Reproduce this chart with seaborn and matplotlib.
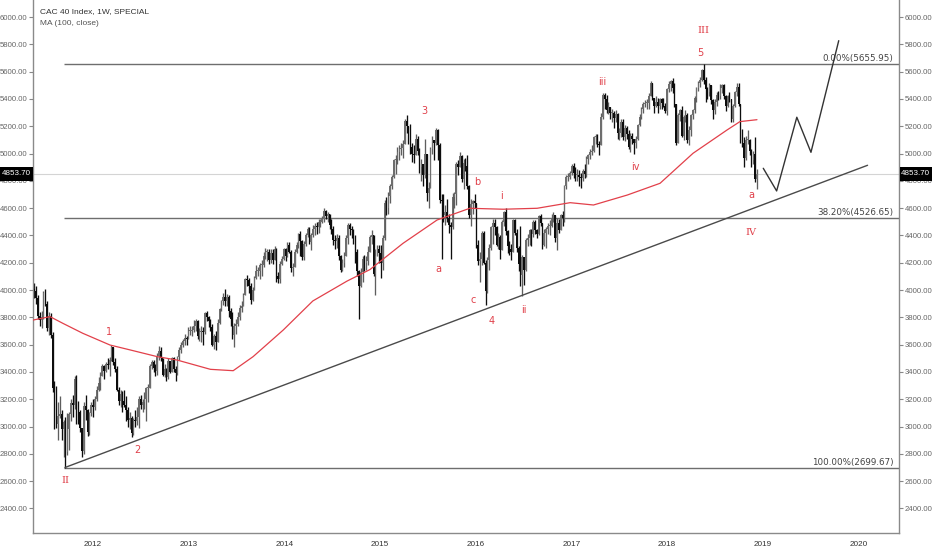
import numpy as np
import pandas as pd
import seaborn as sns
import matplotlib
matplotlib.use("Agg")
import matplotlib.pyplot as plt
import matplotlib.dates as mdates
import matplotlib.transforms as mtransforms
from matplotlib.patches import Rectangle

# WEEKLY CAC 40 BARS (MONDAYS FROM 2011-05-23), ONE LINE PER YEAR
first_open = 4010
closes = [
    3990, 3940, 3810, 3780, 3800, 3980, 3900, 3720, 3810, 3670, 3280, 3210, 3020, 3080, 3090, 2980,
    3030, 2810, 2980, 3090, 3170, 3160, 3350, 3120, 3110, 2990, 2820, 3150, 3120, 2960, 3100, 3160,
    3140, 3200, 3270, 3320, 3370, 3440, 3410, 3460, 3450, 3490, 3580, 3470, 3420, 3270, 3190, 3240, 3190, 3160,
    3120, 3050, 3060, 2950, 3050, 3040, 3070, 3200, 3160, 3180, 3200, 3280, 3280, 3440, 3470, 3430, 3410,
    3520, 3550, 3500, 3380, 3420, 3360, 3480, 3400, 3500, 3420, 3390, 3510, 3560, 3600, 3630, 3650, 3640, 3700,
    3700, 3710, 3740, 3770, 3660, 3690, 3700, 3690, 3830, 3800, 3770, 3730, 3600, 3660, 3620, 3760, 3860,
    3920, 3950, 3920, 3950, 3850, 3790, 3670, 3740, 3750, 3800, 3870, 3880, 3960, 4080, 4070, 4030, 3930,
    4000, 4090, 4140, 4140, 4180, 4180, 4250, 4280, 4280, 4220, 4270, 4220, 4300, 4100, 4080, 4190, 4230, 4300,
    4250, 4330, 4280, 4160, 4170, 4280, 4330, 4410, 4360, 4240, 4340, 4400, 4450, 4350, 4400, 4450, 4470,
    4460, 4500, 4500, 4520, 4580, 4540, 4560, 4480, 4450, 4370, 4360, 4380, 4250, 4150, 4200, 4250, 4380,
    4480, 4450, 4440, 4380, 4280, 4140, 4030, 4130, 4230, 4200, 4210, 4280, 4390, 4400, 4120, 4250, 4300, 4270,
    4200, 4380, 4640, 4600, 4690, 4760, 4830, 4950, 4960, 5010, 5030, 5040, 5070, 5240, 5200, 5170, 5050,
    5000, 4990, 5110, 5020, 4900, 4920, 4840, 5000, 4710, 4750, 5030, 5100, 5080, 5170, 5060, 4660, 4650, 4550,
    4570, 4530, 4480, 4460, 4680, 4700, 4920, 4900, 4980, 4810, 4930, 4910, 4760, 4550, 4630, 4650, 4640,
    4330, 4210, 4230, 4420, 4200, 3990, 4220, 4310, 4460, 4490, 4460, 4330, 4390, 4290, 4500, 4570, 4430,
    4320, 4300, 4280, 4510, 4420, 4310, 4190, 4110, 4240, 4150, 4370, 4380, 4440, 4410, 4500, 4440, 4410, 4540,
    4490, 4330, 4420, 4450, 4470, 4470, 4530, 4550, 4380, 4490, 4440, 4550, 4530, 4760, 4830, 4830, 4860,
    4910, 4860, 4840, 4840, 4830, 4820, 4870, 4850, 4960, 4990, 5010, 5020, 5120, 5130, 5070, 5060, 5270,
    5430, 5400, 5320, 5340, 5300, 5300, 5260, 5290, 5150, 5150, 5230, 5120, 5190, 5140, 5050, 5130, 5110, 5080,
    5110, 5210, 5270, 5330, 5360, 5370, 5370, 5420, 5520, 5410, 5350, 5380, 5350, 5400, 5370, 5350, 5310,
    5470, 5510, 5530, 5480, 5360, 5080, 5280, 5320, 5130, 5270, 5280, 5100, 5170, 5280, 5320, 5410, 5480, 5520,
    5540, 5610, 5540, 5470, 5450, 5500, 5390, 5320, 5380, 5430, 5420, 5480, 5500, 5420, 5350, 5420, 5400,
    5250, 5350, 5450, 5490, 5360, 5100, 5080, 4970, 5100, 5100, 5020, 4950, 5000, 4810, 4853.70,
]
highs = [
    4050, 4030, 3960, 3840, 3850, 3990, 4010, 3920, 3840, 3830, 3690, 3330, 3300, 3180, 3220, 3120,
    3050, 3070, 3100, 3110, 3200, 3230, 3370, 3380, 3190, 3120, 2990, 3180, 3230, 3130, 3110, 3180,
    3200, 3220, 3300, 3360, 3400, 3460, 3450, 3470, 3500, 3510, 3600, 3580, 3500, 3440, 3290, 3270, 3260, 3270,
    3220, 3140, 3110, 3080, 3060, 3120, 3140, 3220, 3230, 3200, 3250, 3290, 3310, 3460, 3490, 3490, 3460,
    3540, 3590, 3580, 3500, 3460, 3430, 3500, 3480, 3510, 3510, 3440, 3520, 3580, 3620, 3640, 3680, 3660, 3730,
    3740, 3740, 3780, 3790, 3780, 3720, 3740, 3730, 3840, 3850, 3810, 3790, 3750, 3680, 3700, 3790, 3870,
    3930, 3980, 4010, 3970, 3960, 3870, 3840, 3760, 3790, 3840, 3890, 3920, 3980, 4090, 4110, 4090, 4050,
    4020, 4100, 4180, 4170, 4200, 4220, 4280, 4310, 4300, 4300, 4300, 4300, 4320, 4310, 4130, 4210, 4250, 4310,
    4310, 4350, 4350, 4290, 4200, 4300, 4350, 4420, 4430, 4370, 4360, 4420, 4460, 4460, 4420, 4480, 4490,
    4500, 4520, 4520, 4540, 4600, 4590, 4570, 4560, 4520, 4470, 4400, 4410, 4400, 4260, 4230, 4280, 4400,
    4490, 4490, 4470, 4450, 4400, 4300, 4150, 4160, 4250, 4260, 4250, 4320, 4400, 4440, 4400, 4300, 4330, 4330,
    4330, 4400, 4660, 4680, 4720, 4780, 4840, 4960, 4990, 5050, 5060, 5080, 5100, 5250, 5283, 5200, 5220,
    5080, 5060, 5140, 5130, 5040, 4960, 4910, 5110, 4900, 4790, 5050, 5130, 5100, 5190, 5180, 5080, 4700, 4700,
    4620, 4670, 4560, 4500, 4710, 4720, 4940, 4950, 5010, 4990, 4960, 4970, 4990, 4770, 4670, 4660, 4700,
    4640, 4370, 4280, 4430, 4430, 4220, 4240, 4340, 4470, 4520, 4520, 4470, 4420, 4400, 4510, 4580, 4600,
    4440, 4360, 4340, 4520, 4520, 4450, 4320, 4470, 4260, 4240, 4380, 4410, 4450, 4450, 4510, 4510, 4450, 4550,
    4560, 4480, 4450, 4460, 4490, 4510, 4560, 4570, 4550, 4530, 4520, 4560, 4580, 4770, 4840, 4860, 4870,
    4920, 4930, 4900, 4890, 4880, 4860, 4890, 4920, 4980, 5000, 5030, 5060, 5130, 5140, 5140, 5090, 5300,
    5440, 5440, 5430, 5380, 5340, 5330, 5310, 5320, 5300, 5190, 5250, 5250, 5210, 5200, 5170, 5150, 5150, 5110,
    5130, 5220, 5290, 5340, 5380, 5390, 5400, 5440, 5530, 5520, 5410, 5420, 5410, 5410, 5410, 5410, 5370,
    5480, 5530, 5540, 5550, 5520, 5360, 5300, 5330, 5350, 5280, 5320, 5300, 5200, 5290, 5330, 5420, 5490, 5530,
    5560, 5620, 5657, 5560, 5490, 5520, 5500, 5400, 5400, 5450, 5460, 5510, 5510, 5510, 5430, 5430, 5450,
    5400, 5360, 5460, 5520, 5520, 5360, 5180, 5120, 5130, 5170, 5110, 5030, 5020, 5120, 4890,
]
lows = [
    3940, 3900, 3790, 3740, 3720, 3790, 3880, 3700, 3670, 3650, 3250, 2980, 2990, 2900, 3060, 2900,
    2780, 2699.67, 2790, 2830, 3040, 3070, 3130, 3020, 3020, 2960, 2780, 2800, 3050, 2930, 2940, 3080,
    3070, 3120, 3190, 3260, 3270, 3370, 3350, 3400, 3420, 3370, 3480, 3450, 3400, 3260, 3160, 3140, 3110, 3140,
    3040, 3000, 2980, 2920, 2940, 3000, 3010, 2990, 3130, 3110, 3130, 3040, 3180, 3280, 3420, 3400, 3370,
    3380, 3490, 3480, 3370, 3360, 3330, 3350, 3390, 3400, 3400, 3330, 3380, 3490, 3540, 3580, 3600, 3600, 3650,
    3670, 3660, 3690, 3700, 3640, 3630, 3620, 3600, 3680, 3770, 3730, 3700, 3590, 3570, 3560, 3620, 3750,
    3850, 3890, 3880, 3880, 3800, 3740, 3640, 3580, 3680, 3740, 3780, 3840, 3880, 3960, 4030, 3980, 3900,
    3920, 4000, 4080, 4100, 4080, 4100, 4170, 4230, 4210, 4190, 4200, 4190, 4220, 4060, 4050, 4050, 4180, 4220,
    4210, 4240, 4270, 4130, 4100, 4170, 4270, 4310, 4250, 4220, 4220, 4320, 4390, 4340, 4290, 4390, 4400,
    4410, 4420, 4460, 4490, 4500, 4520, 4500, 4450, 4410, 4330, 4300, 4310, 4220, 4130, 4140, 4170, 4250,
    4340, 4400, 4380, 4340, 4200, 4100, 3790, 4020, 4060, 4140, 4150, 4180, 4290, 4340, 4100, 3960, 4250, 4200,
    4090, 4150, 4370, 4550, 4560, 4640, 4740, 4820, 4850, 4920, 4950, 4990, 4970, 5080, 5150, 5070, 5000,
    4940, 4930, 5000, 4990, 4860, 4800, 4760, 4820, 4650, 4600, 4760, 5000, 4950, 5060, 4950, 4640, 4230, 4500,
    4480, 4500, 4420, 4230, 4450, 4600, 4620, 4840, 4900, 4790, 4740, 4870, 4740, 4530, 4470, 4560, 4600,
    4310, 4180, 4060, 4180, 4190, 3890, 3980, 4150, 4290, 4340, 4400, 4320, 4300, 4230, 4290, 4470, 4400,
    4270, 4260, 4220, 4300, 4400, 4280, 4140, 4030, 3955, 4040, 4140, 4320, 4330, 4320, 4390, 4410, 4380, 4400,
    4470, 4300, 4320, 4310, 4410, 4400, 4460, 4500, 4350, 4290, 4420, 4440, 4470, 4500, 4740, 4800, 4810,
    4840, 4820, 4800, 4800, 4760, 4750, 4800, 4820, 4830, 4920, 4960, 4990, 5010, 5070, 5050, 4990, 5060,
    5250, 5330, 5300, 5290, 5250, 5230, 5190, 5230, 5110, 5100, 5120, 5100, 5090, 5110, 5030, 5010, 5070, 4995,
    5040, 5100, 5200, 5250, 5300, 5340, 5330, 5330, 5420, 5390, 5300, 5340, 5300, 5330, 5330, 5340, 5300,
    5280, 5450, 5460, 5440, 5340, 5060, 5090, 5240, 5120, 5100, 5230, 5080, 5060, 5130, 5250, 5300, 5380, 5460,
    5490, 5530, 5510, 5380, 5400, 5420, 5360, 5250, 5290, 5350, 5390, 5400, 5440, 5400, 5310, 5340, 5380,
    5230, 5230, 5340, 5420, 5350, 5080, 5050, 4900, 4950, 5070, 4990, 4900, 4920, 4790, 4740,
]

# MA (100, CLOSE)
ma_dates = ["2011-05-18", "2011-07-22", "2011-09-09", "2011-11-24", "2012-03-07", "2012-05-23",
            "2012-09-03", "2012-11-18", "2013-03-25", "2013-06-20", "2013-09-04", "2013-12-28",
            "2014-04-20", "2014-08-28", "2014-11-24", "2015-03-30", "2015-08-07", "2015-12-10",
            "2016-04-15", "2016-08-23", "2016-12-27", "2017-03-26", "2017-08-02", "2017-12-05",
            "2018-04-10", "2018-08-18", "2018-10-06", "2018-12-10"]
ma_values = [3780, 3805, 3756, 3683, 3597, 3561, 3512, 3487, 3419, 3409, 3512, 3707,
             3920, 4065, 4150, 4342, 4513, 4599, 4592, 4599, 4640, 4623, 4696, 4782,
             5002, 5173, 5234, 5248]

# FIB LEVELS, TRENDLINE AND PROJECTED PATH
fib_levels = [5655.95, 4526.65, 2699.67]
fib_labels = ["0.00%(5655.95)", "38.20%(4526.65)", "100.00%(2699.67)"]
fib_start = "2011-09-13"
trend_dates = ["2011-09-17", "2020-02-05"]
trend_values = [2699.67, 4914]
proj_dates = ["2019-01-03", "2019-02-23", "2019-05-11", "2019-07-04", "2019-10-18"]
proj_values = [4892, 4726, 5266, 5009, 5827]
last_price = 4853.70

# ELLIOTT WAVE LABELS (DATE, PRICE, TEXT)
wave_dates = ["2012-03-04", "2012-06-18", "2011-09-19", "2015-06-19", "2015-08-11", "2016-01-08",
              "2015-12-23", "2016-03-01", "2016-04-08", "2016-07-05", "2017-04-27", "2017-09-02",
              "2018-05-08", "2018-05-18", "2018-11-17", "2018-11-17"]
wave_prices = [3695, 2828, 2608, 5314, 4154, 4794, 3927, 3773, 4687, 3854, 5522, 4899,
               5735, 5898, 4696, 4425]
wave_texts = ["1", "2", "II", "3", "a", "b", "c", "4", "i", "ii", "iii", "iv", "5", "III", "a", "IV"]

yticks = list(range(2400, 6001, 200))
years = list(range(2012, 2021))

sns.set_style("white")
plt.rcParams['font.family'] = ['Liberation Sans', 'DejaVu Sans']

W, H = 932, 550
fig = plt.figure(figsize=(W / 100, H / 100), dpi=100)
ax = fig.add_axes([33 / W, 17.3 / H, 866 / W, 532.7 / H])

# BUILD OHLC FRAME
df = pd.DataFrame({"close": closes, "high": highs, "low": lows})
df["date"] = pd.date_range("2011-05-23", periods=len(df), freq="W-MON")
df["open"] = df["close"].shift(1).fillna(first_open)
df["high"] = df[["high", "open", "close"]].max(axis=1)
df["low"] = df[["low", "open", "close"]].min(axis=1)
x = mdates.date2num(df["date"])
up = df["close"] >= df["open"]

body_col = np.where(up, "#6e6e6e", "#0d0d0d")
wick_col = np.where(up, "#5e5e5e", "#0d0d0d")

# PRICE LINE + FIB LEVELS
ax.axhline(last_price, color="#d4d4d4", lw=0.8, zorder=1)
fx0 = mdates.date2num(pd.Timestamp(fib_start))
xmin = mdates.date2num(pd.Timestamp("2011-05-18"))
xmax = mdates.date2num(pd.Timestamp("2020-06-04"))
blend = mtransforms.blended_transform_factory(ax.transAxes, ax.transData)
for lvl, lab in zip(fib_levels, fib_labels):
    ax.hlines(lvl, fx0, xmax, color="#6e6e6e", lw=1.0, zorder=1)
    ax.text(0.9935, lvl + 6, lab, transform=blend, ha="right", va="bottom",
            fontsize=6.3, color="#444444", family="DejaVu Sans")

# CANDLES
ax.vlines(x, df["low"], df["high"], colors=wick_col, lw=0.95, zorder=2)
ax.bar(x, np.maximum((df["close"] - df["open"]).abs(), 8), bottom=df[["open", "close"]].min(axis=1),
       width=6.0, color=body_col, lw=0, zorder=3)

# MA LINE
sns.lineplot(x=mdates.date2num(pd.to_datetime(ma_dates)), y=ma_values, ax=ax,
             color="#e2404a", linewidth=0.9, zorder=4)

# TRENDLINE AND PROJECTION
sns.lineplot(x=mdates.date2num(pd.to_datetime(trend_dates)), y=trend_values, ax=ax,
             color="#4a4a4a", linewidth=1.0, zorder=4)
sns.lineplot(x=mdates.date2num(pd.to_datetime(proj_dates)), y=proj_values, ax=ax, sort=False,
             color="#333333", linewidth=1.0, zorder=4)

# WAVE LABELS
for d, p, t in zip(wave_dates, wave_prices, wave_texts):
    fam = "DejaVu Serif" if t.isupper() else "DejaVu Sans"
    ax.text(mdates.date2num(pd.Timestamp(d)), p, t, ha="center", va="center",
            fontsize=7, color="#e0404a", family=fam)

# AXES
ax.set_xlim(xmin, xmax)
ax.set_ylim(2222, 6125)
ax.set_yticks(yticks)
ax.set_yticklabels(["%.2f" % v for v in yticks])
ax.set_xticks([mdates.date2num(pd.Timestamp(f"{y}-01-01")) for y in years])
ax.set_xticklabels([str(y) for y in years])
ax.tick_params(axis="y", direction="out", length=3, width=0.8, color="#888888",
               labelsize=5.6, labelcolor="#666666", left=True, right=True,
               labelleft=True, labelright=True, pad=1)
ax.tick_params(axis="x", direction="out", length=3, width=0.8, color="#888888",
               labelsize=5.9, labelcolor="#333333", pad=3)
for s in ["left", "right", "bottom"]:
    ax.spines[s].set_color("#8a8a8a")
    ax.spines[s].set_linewidth(1.0)
ax.spines["top"].set_visible(False)
ax.set_xlabel("")
ax.set_ylabel("")

# LAST PRICE TAGS (black boxes over both price scales)
fig.canvas.draw()
py = ax.transData.transform((xmin, last_price))[1]
for x0, x1 in [(0, 33), (899.5, 932)]:
    fig.patches.append(Rectangle((x0 / W, (py - 7) / H), (x1 - x0) / W, 14 / H,
                                 transform=fig.transFigure, fc="black", ec="none", zorder=10))
    fig.text((x0 + x1) / 2 / W, py / H, "4853.70", ha="center", va="center",
             fontsize=5.8, color="white", zorder=11)

# HEADER
fig.text(40 / W, 1 - 12 / H, "CAC 40 Index, 1W, SPECIAL", fontsize=6, color="#333333", va="center")
fig.text(40 / W, 1 - 23.5 / H, "MA (100, close)", fontsize=6, color="#555555", va="center")

fig.savefig("out.png", dpi=100)
